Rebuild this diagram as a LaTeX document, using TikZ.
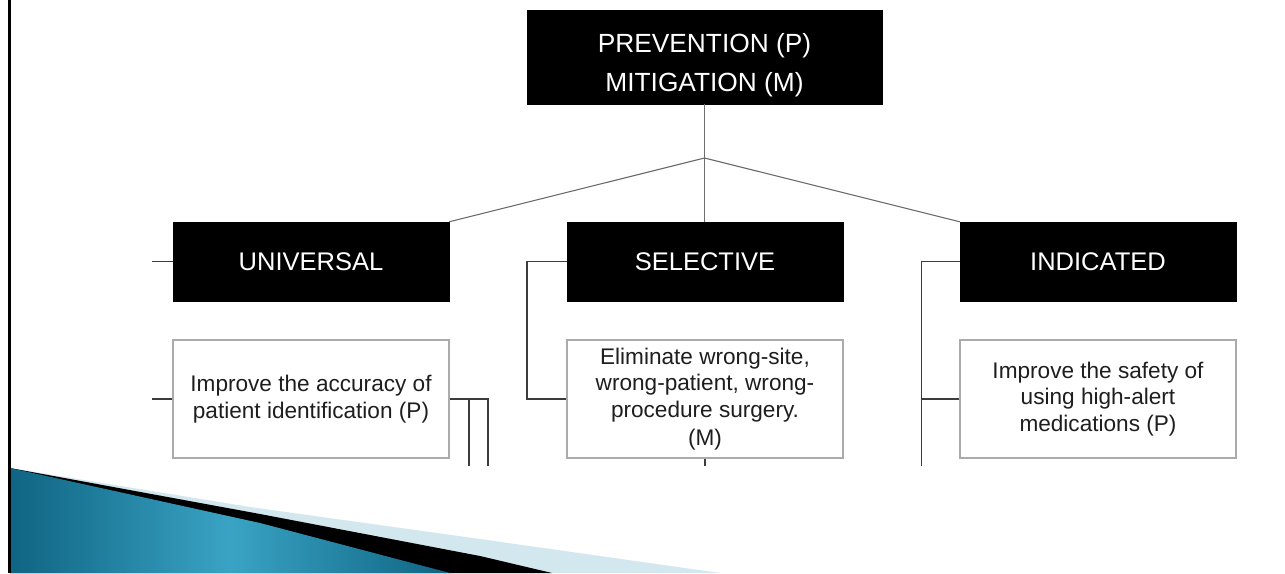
\documentclass[tikz,border=0pt]{standalone}
\usepackage{fontspec}
\setmainfont{Liberation Sans}
\definecolor{conn}{HTML}{3C3C3C}
\definecolor{diag}{HTML}{6E6E6E}
\definecolor{boxb}{HTML}{ABABAB}
\definecolor{txt}{HTML}{1E1E1E}
\definecolor{swdark}{HTML}{0F6482}
\definecolor{swmid}{HTML}{3AA3C4}
\definecolor{swlight}{HTML}{D3E7EF}
\begin{document}
\begin{tikzpicture}[x=1pt,y=-1pt,
  headbox/.style={fill=black,draw=black,text=white,minimum width=276pt,minimum height=79pt,inner sep=0pt,font=\fontsize{25.5}{30}\selectfont},
  topbox/.style={fill=black,draw=black,text=white,minimum width=355pt,minimum height=94pt,inner sep=0pt,align=center,font=\fontsize{26.3}{39}\selectfont},
  itembox/.style={fill=white,draw=boxb,line width=1.5pt,text=txt,minimum width=276pt,minimum height=118pt,inner sep=0pt,align=center,font=\fontsize{22.6}{26.5}\selectfont},
  conline/.style={draw=conn,line width=1.6pt},
  diagline/.style={draw=diag,line width=1.1pt}]
\useasboundingbox (0,0) rectangle (1285,573);
\fill[white] (0,0) rectangle (1285,573);

% slide decoration
\fill[swlight] (10,468) -- (250,507) -- (480,539) -- (720,573) -- (10,573) -- cycle;
\fill[black] (10,468) -- (260,514) -- (480,556) -- (552,573) -- (10,573) -- cycle;
\shade[left color=swdark,right color=swdark,middle color=swmid] (10,468) -- (260,523) -- (450,573) -- (10,573) -- cycle;
\draw[line width=3pt,black] (9.5,0) -- (9.5,573);

% nodes
\node[topbox] (top) at (704.5,57) {\rule{0pt}{35pt}PREVENTION (P)\\MITIGATION (M)};
\node[headbox] (uni) at (311,261.5) {UNIVERSAL};
\node[headbox] (sel) at (705,261.5) {SELECTIVE};
\node[headbox] (ind) at (1098,261.5) {INDICATED};
\node[itembox] (b1) at (311,399) {Improve the accuracy of\\patient identification (P)};
\node[itembox] (b2) at (705,399) {Eliminate wrong-site,\\wrong-patient, wrong-\\procedure surgery.\\[2pt](M)};
\node[itembox] (b3) at (1098,399) {Improve the safety of\\using high-alert\\medications (P)};

% coordinates
\coordinate (J) at (704.5,158);
\coordinate (ul) at (152,261.5);
\coordinate (b1l) at (152,399);
\coordinate (r1t) at (469,399);
\coordinate (r1b) at (469,466);
\coordinate (r2t) at (488,399);
\coordinate (r2b) at (488,466);
\coordinate (st) at (527,261.5);
\coordinate (sb) at (527,399);
\coordinate (b2b) at (705,466);
\coordinate (it) at (921.5,261.5);
\coordinate (im) at (921.5,399);
\coordinate (ib) at (921.5,466);

% connectors
\draw[diagline] (top.south) -- (J) -- (top.south |- sel.north);
\draw[diagline] (J) -- (uni.north east);
\draw[diagline] (J) -- (ind.north west);
\draw[conline] (uni.west) -- (ul);
\draw[conline] (b1.west) -- (b1l);
\draw[conline] (b1.east) -- (r2t) -- (r2b);
\draw[conline] (r1t) -- (r1b);
\draw[conline] (sel.west) -- (st) -- (sb) -- (b2.west);
\draw[conline] (b2.south) -- (b2b);
\draw[conline] (ind.west) -- (it) -- (ib);
\draw[conline] (im) -- (b3.west);
\end{tikzpicture}
\end{document}
